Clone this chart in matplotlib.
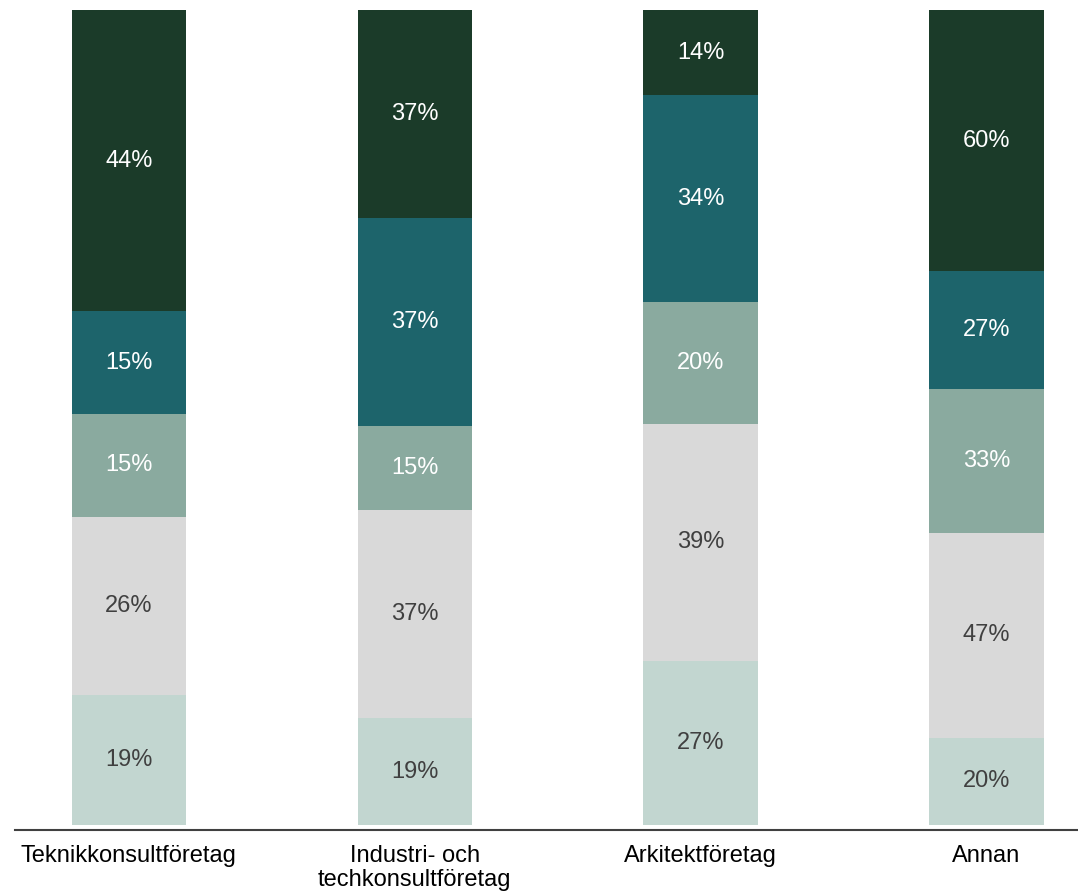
import numpy as np
import matplotlib.pyplot as plt

plt.rcParams['font.family'] = ['Liberation Sans', 'DejaVu Sans']

categories = ['Teknikkonsultföretag', 'Industri- och\ntechkonsultföretag', 'Arkitektföretag', 'Annan']
# segments from bottom to top
seg1 = [19, 19, 27, 20]
seg2 = [26, 37, 39, 47]
seg3 = [15, 15, 20, 33]
seg4 = [15, 37, 34, 27]
seg5 = [44, 37, 14, 60]

series = [seg1, seg2, seg3, seg4, seg5]
colors = ['#c2d6d0', '#d9d9d9', '#8aaa9f', '#1d646b', '#1b3b29']
text_colors = ['#404040', '#404040', 'white', 'white', 'white']

data = np.array(series, dtype=float)
totals = data.sum(axis=0)
shares = data / totals  # each bar filled to full height

fig = plt.figure(figsize=(10.78, 8.92), dpi=100)
ax = fig.add_axes([14.5 / 1078, 1 - 830 / 892, 1 - 14.5 / 1078, 820 / 892])

x = np.arange(len(categories))
bottom = np.zeros(len(categories))
for vals, sh, c, tc in zip(series, shares, colors, text_colors):
    ax.bar(x, sh, bottom=bottom, width=0.4, color=c, linewidth=0)
    for xi, b, h, v in zip(x, bottom, sh, vals):
        ax.text(xi, b + h / 2, f'{v}%', ha='center', va='center', color=tc, fontsize=17)
    bottom += sh

ax.set_xlim(-0.4, 3.32)
ax.set_ylim(-5 / 815, 1.0)
ax.set_xticks(x)
ax.set_xticklabels(categories, fontsize=17, color='black', linespacing=1.1)
ax.tick_params(axis='x', length=0, pad=11)
ax.set_yticks([])
for s in ['top', 'right', 'left']:
    ax.spines[s].set_visible(False)
ax.spines['bottom'].set_color('#404040')
ax.spines['bottom'].set_linewidth(1.5)

fig.savefig('out.png', dpi=100)
